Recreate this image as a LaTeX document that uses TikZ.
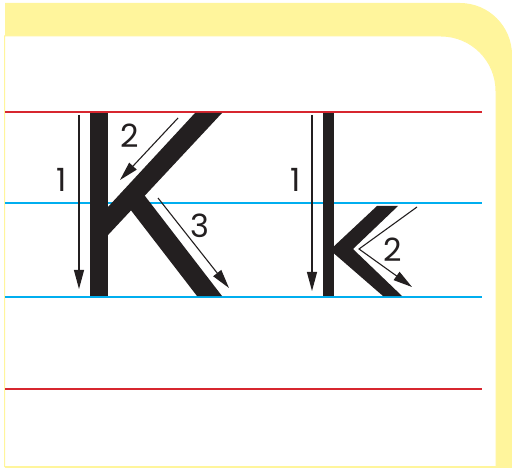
\documentclass[tikz,border=0pt]{standalone}
\usepackage{fontspec}
\setmainfont{Poppins}
\usetikzlibrary{arrows.meta}
\definecolor{pad}{HTML}{FFF59C}
\definecolor{redrule}{HTML}{D7262F}
\definecolor{bluerule}{HTML}{00AEEF}
\definecolor{ink}{HTML}{231F20}
\begin{document}
\begin{tikzpicture}[x=1pt,y=-1pt,
  redline/.style={redrule,line width=2pt},
  blueline/.style={bluerule,line width=2pt},
  letterpart/.style={fill=ink},
  guide/.style={ink,line width=1.1pt,-{Triangle[length=19pt,width=10pt]}},
  num/.style={font=\fontsize{32}{32}\selectfont,text=ink,inner sep=0pt}]
\useasboundingbox (0,0) rectangle (512,468);
% frame
\fill[pad] (5,3) -- (460,3) arc[start angle=-90,end angle=0,radius=52] -- (512,468) -- (5,468) -- cycle;
\filldraw[fill=white,draw=pad,line width=1pt] (4.5,36) -- (441,36) arc[start angle=-90,end angle=0,radius=55] -- (496,466.5) -- (4.5,466.5) -- cycle;
% ruled lines
\coordinate (r1a) at (5,112);   \coordinate (r1b) at (482,112);
\coordinate (b1a) at (5,203.5); \coordinate (b1b) at (482,203.5);
\coordinate (b2a) at (5,297);   \coordinate (b2b) at (482,297);
\coordinate (r2a) at (5,389);   \coordinate (r2b) at (482,389);
\draw[redline] (r1a) -- (r1b);
\draw[blueline] (b1a) -- (b1b);
\draw[blueline] (b2a) -- (b2b);
\draw[redline] (r2a) -- (r2b);
% capital K
\fill[letterpart] (90,113) rectangle (108,296);
\fill[letterpart] (195,113) -- (222,113) -- (100,243.6) -- (100,215.6) -- cycle;
\fill[letterpart] (197,296) -- (222,296) -- (141.9,192) -- (126.9,205) -- cycle;
% small k
\fill[letterpart] (323,113) rectangle (334,296);
\fill[letterpart] (377,206) -- (398,206) -- (353,249) -- (402,296) -- (383,296) -- (330,250) -- cycle;
% guide arrows
\coordinate (k1s) at (79,115);   \coordinate (k1e) at (79,289);
\coordinate (k2s) at (178,118);  \coordinate (k2e) at (120,180);
\coordinate (k3s) at (158,198);  \coordinate (k3e) at (229,288);
\coordinate (s1s) at (312,115);  \coordinate (s1e) at (312,291);
\coordinate (s2s) at (417,207);  \coordinate (s2m) at (359,249); \coordinate (s2e) at (412,287);
\draw[guide] (k1s) -- (k1e);
\draw[guide] (k2s) -- (k2e);
\draw[guide] (k3s) -- (k3e);
\draw[guide] (s1s) -- (s1e);
\draw[guide] (s2s) -- (s2m) -- (s2e);
% labels
\node[num] (n1) at (62,180) {1};
\node[num] (n2) at (130,135.5) {2};
\node[num] (n3) at (200,225.5) {3};
\node[num] (m1) at (296,180) {1};
\node[num] (m2) at (393,250) {2};
\end{tikzpicture}
\end{document}
